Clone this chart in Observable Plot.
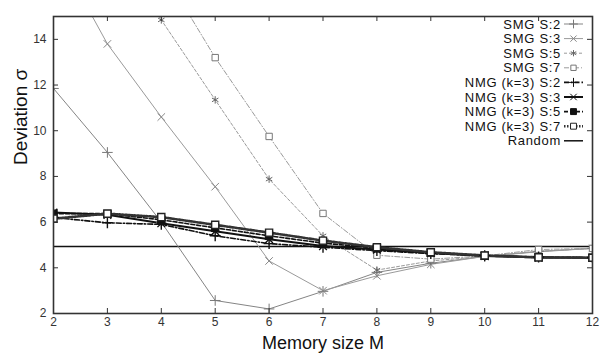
<!DOCTYPE html>
<html>
<head>
<meta charset="utf-8">
<script src="https://cdn.jsdelivr.net/npm/d3@7"></script>
<script src="https://cdn.jsdelivr.net/npm/@observablehq/plot@0.6"></script>
<style>
  html, body { margin: 0; padding: 0; background: #fff; }
  #wrap { position: relative; width: 600px; height: 354px; }
  #legend { position: absolute; left: 0; top: 0; pointer-events: none; }
</style>
</head>
<body>
<div id="wrap"></div>
<script>
// ---- data ----
const memorySizes = [2, 3, 4, 5, 6, 7, 8, 9, 10, 11, 12];
const xTickValues = [2, 3, 4, 5, 6, 7, 8, 9, 10, 11, 12];
const yTickValues = [2, 4, 6, 8, 10, 12, 14];
const seriesNames = ["SMG S:2", "SMG S:3", "SMG S:5", "SMG S:7",
  "NMG (k=3) S:2", "NMG (k=3) S:3", "NMG (k=3) S:5", "NMG (k=3) S:7"];
const smgS2 = [11.85, 9.05, 6.0, 2.57, 2.2, 2.97, 3.8, 4.2, 4.5, 4.72, 4.85];
const smgS3 = [18.1, 13.8, 10.6, 7.55, 4.3, 3.0, 3.65, 4.15, 4.5, 4.7, 4.85];
const smgS5 = [22, 18.4, 14.85, 11.35, 7.88, 5.4, 3.9, 4.3, 4.5, 4.72, 4.85];
const smgS7 = [25, 21, 17.1, 13.2, 9.75, 6.38, 4.55, 4.38, 4.52, 4.8, 4.85];
const nmgS2 = [6.2, 5.97, 5.9, 5.4, 5.06, 4.9, 4.75, 4.62, 4.53, 4.47, 4.45];
const nmgS3 = [6.42, 6.32, 5.95, 5.6, 5.25, 4.95, 4.8, 4.65, 4.52, 4.45, 4.44];
const nmgS5 = [6.37, 6.37, 6.1, 5.75, 5.4, 5.08, 4.86, 4.67, 4.53, 4.46, 4.44];
const nmgS7 = [6.15, 6.37, 6.22, 5.88, 5.54, 5.19, 4.9, 4.68, 4.54, 4.46, 4.44];
const randomName = "Random";
const randomValue = 4.93;
const seriesValues = [smgS2, smgS3, smgS5, smgS7, nmgS2, nmgS3, nmgS5, nmgS7];

// ---- styles ----
const styles = [
  {stroke: "#858585", width: 1, dash: null, symbol: "plus", r: 3.5, fill: "none", mstroke: "#777"},
  {stroke: "#9a9a9a", width: 1, dash: null, symbol: "times", r: 3.5, fill: "none", mstroke: "#888"},
  {stroke: "#9a9a9a", width: 1, dash: "3,2", symbol: "asterisk", r: 3.5, fill: "none", mstroke: "#666"},
  {stroke: "#9a9a9a", width: 1, dash: "5,2,1,2", symbol: "square", r: 3.6, fill: "white", mstroke: "#777"},
  {stroke: "#111", width: 1.6, dash: "5,2,1.5,2", symbol: "plus", r: 3.6, fill: "none", mstroke: "#111"},
  {stroke: "#111", width: 2, dash: null, symbol: "times", r: 3.6, fill: "none", mstroke: "#111"},
  {stroke: "#111", width: 1.6, dash: "4,2", symbol: "square", r: 4, fill: "#111", mstroke: "#111"},
  {stroke: "#333", width: 2.6, dash: "1.5,1.5", symbol: "square", r: 4, fill: "white", mstroke: "#222"}
];

const table = seriesNames.flatMap((name, i) =>
  memorySizes.map((m, j) => ({series: name, idx: i, m, v: seriesValues[i][j]})));

const W = 600, H = 354, mL = 53, mR = 8, mT = 16, mB = 41;
const innerW = W - mL - mR, innerH = H - mT - mB;

const marks = [];
marks.push(Plot.ruleY([randomValue], {stroke: "#111", strokeWidth: 1.5}));
seriesNames.forEach((name, i) => {
  const s = styles[i];
  const data = table.filter(d => d.idx === i);
  marks.push(Plot.line(data, {x: "m", y: "v", stroke: s.stroke, strokeWidth: s.width,
    strokeDasharray: s.dash || undefined, clip: true}));
});
seriesNames.forEach((name, i) => {
  const s = styles[i];
  const data = table.filter(d => d.idx === i);
  marks.push(Plot.dot(data, {x: "m", y: "v", symbol: s.symbol, r: s.r, fill: s.fill,
    stroke: s.mstroke, strokeWidth: i >= 4 ? 1.4 : 1, clip: true}));
});
// inward ticks on all four sides
marks.push(Plot.tickX(xTickValues, {x: d => d, insetTop: innerH - 5, stroke: "#333"}));
marks.push(Plot.tickX(xTickValues, {x: d => d, insetBottom: innerH - 5, stroke: "#333"}));
marks.push(Plot.tickY(yTickValues, {y: d => d, insetRight: innerW - 5, stroke: "#333"}));
marks.push(Plot.tickY(yTickValues, {y: d => d, insetLeft: innerW - 5, stroke: "#333"}));
marks.push(Plot.axisX({ticks: xTickValues, tickSize: 0, tickPadding: 4, label: null, fill: "#333", fontSize: 12}));
marks.push(Plot.axisY({ticks: yTickValues, tickSize: 0, tickPadding: 7, label: null, fill: "#333", fontSize: 12}));
marks.push(Plot.frame({stroke: "#333", strokeWidth: 1.6}));
marks.push(Plot.text(["Memory size M"], {frameAnchor: "bottom", dy: 30, lineAnchor: "middle", fontSize: 18, fill: "#111"}));
marks.push(Plot.text(["Deviation σ"], {frameAnchor: "left", dx: -33, rotate: -90, fontSize: 19, fill: "#111"}));

const chart = Plot.plot({
  width: W, height: H,
  marginLeft: mL, marginRight: mR, marginTop: mT, marginBottom: mB,
  x: {domain: [2, 12]},
  y: {domain: [2, 15]},
  style: {fontFamily: "'Liberation Sans', Arial, sans-serif", background: "white", overflow: "visible"},
  marks
});
document.getElementById("wrap").appendChild(chart);

// ---- legend overlay ----
const legendItems = seriesNames.map((n, i) => ({name: n, style: styles[i]}))
  .concat([{name: randomName, style: {stroke: "#111", width: 1.5, dash: null, symbol: null}}]);
const svg = d3.select("#wrap").append("svg").attr("id", "legend")
  .attr("width", W).attr("height", H);
const symbolMap = {plus: d3.symbolPlus, times: d3.symbolTimes, asterisk: d3.symbolAsterisk, square: d3.symbolSquare};
const row = svg.selectAll("g").data(legendItems).join("g")
  .attr("transform", (d, i) => `translate(0, ${24 + i * 14.6})`);
row.append("text")
  .attr("x", 561).attr("y", 0).attr("dy", "0.35em")
  .attr("text-anchor", "end")
  .attr("font-family", "'Liberation Sans', Arial, sans-serif")
  .attr("font-size", 13).attr("letter-spacing", 0.7).attr("fill", "#111")
  .text(d => d.name);
row.append("line")
  .attr("x1", 564).attr("x2", 583).attr("y1", 0).attr("y2", 0)
  .attr("stroke", d => d.style.stroke)
  .attr("stroke-width", d => d.style.width)
  .attr("stroke-dasharray", d => d.style.dash || null);
row.filter(d => d.style.symbol).append("path")
  .attr("transform", "translate(573.5,0)")
  .attr("d", d => d3.symbol(symbolMap[d.style.symbol], Math.PI * d.style.r * d.style.r * 0.7)())
  .attr("fill", d => d.style.fill)
  .attr("stroke", d => d.style.mstroke)
  .attr("stroke-width", 1);
</script>
</body>
</html>
